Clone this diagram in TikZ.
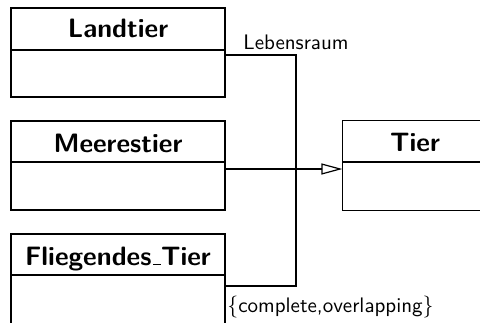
\documentclass[tikz,border=0pt]{standalone}
\usetikzlibrary{arrows.meta}
\newcommand{\umlus}{\leavevmode\kern.06em\vbox{\hrule width.3em height .5pt}}
\tikzset{
  classbox/.style={draw, line width=0.6pt, minimum width=107pt, minimum height=44.5pt, inner sep=0pt},
  classname/.style={font=\sffamily\bfseries\fontsize{13.3}{15}\selectfont, anchor=base, inner sep=0pt},
  plain/.style={font=\sffamily\fontsize{10.5}{12}\selectfont, inner sep=0pt},
  link/.style={line width=0.6pt},
}
\begin{document}
\begin{tikzpicture}[x=0.5pt, y=-0.5pt]
\useasboundingbox (0,0) rectangle (480,322);
\clip (0,0) rectangle (480,322);
\fill[white] (0,0) rectangle (480,322);

% class boxes (the last two run past the edge of the sheet)
\node[classbox] (Land)  at (118,52.5)  {};
\node[classbox] (Meer)  at (118,165.5) {};
\node[classbox, minimum height=48pt] (Flieg) at (118,282) {};
\node[classbox, draw=none, minimum width=100pt] (Tier) at (443,165.5) {};
\draw[link, line width=0.8pt] (Tier.north east) -- (Tier.north west) -- (Tier.south west) -- (Tier.south east);

% compartment dividers
\draw[link] (Land.west  |- 0,50)  -- (Land.east  |- 0,50);
\draw[link] (Meer.west  |- 0,162) -- (Meer.east  |- 0,162);
\draw[link] (Flieg.west |- 0,275) -- (Flieg.east |- 0,275);
\draw[link, line width=0.8pt] (Tier.west  |- 0,162) -- (Tier.east  |- 0,162);

% class names
\node[classname] (nLand)  at (118,37)  {Landtier};
\node[classname] (nMeer)  at (118,152) {Meerestier};
\node[classname] (nFlieg) at (118,265) {Fliegendes\umlus Tier};
\node[classname] (nTier)  at (415,151) {Tier};

% generalization set
\coordinate (busTop) at (296,55);
\coordinate (busBot) at (296,286);
\draw[link] (Land.east |- busTop) -- (busTop) -- (busBot) -- (Flieg.east |- busBot);
\draw[link, -{Triangle[open, length=10.5pt, width=5.5pt]}] (Meer.east |- 0,169) -- (Tier.west |- 0,169);

% labels
\node[plain, anchor=base west] (lLeb)  at (243,49)  {Lebensraum};
\node[plain, anchor=base west] (lComp) at (227,312) {$\{$complete,overlapping$\}$};
\end{tikzpicture}
\end{document}
